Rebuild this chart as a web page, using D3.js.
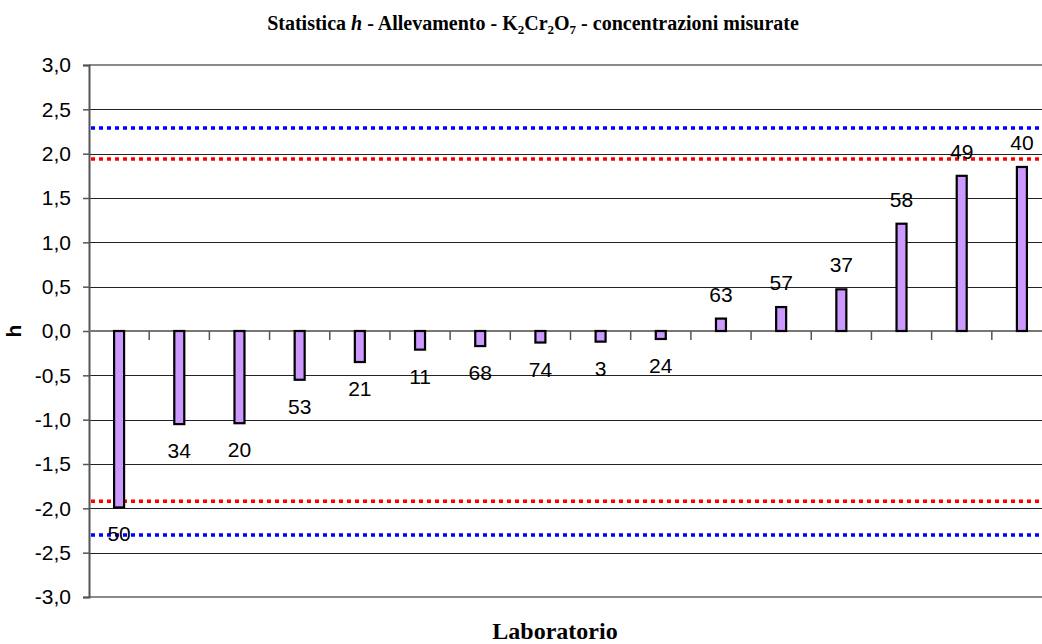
<!DOCTYPE html>
<html>
<head>
<meta charset="utf-8">
<script src="https://cdnjs.cloudflare.com/ajax/libs/d3/7.8.5/d3.min.js"></script>
<style>
  body { margin: 0; background: #fff; }
  svg { display: block; }
</style>
</head>
<body>
<div id="chart"></div>
<script>
'use strict';

// laboratories in plotted order, with their h statistic
const labs = ['50', '34', '20', '53', '21', '11', '68', '74', '3', '24', '63', '57', '37', '58', '49', '40'];
const hValues = [-1.99, -1.05, -1.04, -0.55, -0.35, -0.21, -0.17, -0.13, -0.12, -0.09, 0.14, 0.27, 0.47, 1.21, 1.75, 1.85];

// critical values (5% red, 1% blue)
const limitRed = [1.94, -1.92];
const limitBlue = [2.29, -2.30];

const yTicks = [3, 2.5, 2, 1.5, 1, 0.5, 0, -0.5, -1, -1.5, -2, -2.5, -3];

(function() {
  const width = 1042;
  const height = 644;
  const plot = { left: 89, right: 1052, top: 65, bottom: 597 };

  const svg = d3
    .select('#chart')
    .append('svg')
    .attr('width', width)
    .attr('height', height);

  const xScale = d3
    .scaleBand()
    .domain(labs)
    .range([plot.left, plot.right])
    .padding(0);

  const yScale = d3
    .scaleLinear()
    .domain([-3, 3])
    .range([plot.bottom, plot.top]);

  const fmt = v => d3.format('.1f')(v).replace('.', ',').replace('−', '-');

  // horizontal gridlines
  svg
    .append('g')
    .selectAll('line')
    .data(yTicks.filter(d => d !== 0 && Math.abs(d) !== 3))
    .enter()
    .append('line')
    .attr('x1', plot.left)
    .attr('x2', plot.right)
    .attr('y1', d => Math.round(yScale(d)) + 0.5)
    .attr('y2', d => Math.round(yScale(d)) + 0.5)
    .attr('stroke', '#222')
    .attr('stroke-width', 1.2);

  // plot border top & bottom
  [3, -3].forEach(v => {
    svg
      .append('line')
      .attr('x1', plot.left)
      .attr('x2', plot.right)
      .attr('y1', yScale(v))
      .attr('y2', yScale(v))
      .attr('stroke', '#8a8a8a')
      .attr('stroke-width', 2);
  });

  // y axis with outer ticks
  const yAxis = d3
    .axisLeft(yScale)
    .tickValues(yTicks)
    .tickSize(6)
    .tickPadding(12)
    .tickFormat(fmt);

  const gy = svg
    .append('g')
    .attr('transform', `translate(${plot.left}, 0)`)
    .call(yAxis);

  gy.select('.domain').attr('stroke', '#555').attr('stroke-width', 2);
  gy.selectAll('.tick line').attr('stroke', '#555').attr('stroke-width', 1.5);
  gy.selectAll('.tick text')
    .attr('fill', '#000')
    .style('font-family', 'Arial, "Liberation Sans", sans-serif')
    .style('font-size', '21px');

  // category axis at h = 0 with ticks between the labs
  const y0 = yScale(0);
  svg
    .append('line')
    .attr('x1', plot.left)
    .attr('x2', plot.right)
    .attr('y1', y0)
    .attr('y2', y0)
    .attr('stroke', '#777')
    .attr('stroke-width', 2);

  svg
    .append('g')
    .selectAll('line')
    .data(labs.slice(1))
    .enter()
    .append('line')
    .attr('x1', d => xScale(d))
    .attr('x2', d => xScale(d))
    .attr('y1', y0)
    .attr('y2', y0 + 9)
    .attr('stroke', '#555')
    .attr('stroke-width', 1.5);

  // dotted critical lines
  const drawLimit = (vals, color) => {
    svg
      .append('g')
      .selectAll('line')
      .data(vals)
      .enter()
      .append('line')
      .attr('x1', plot.left + 2)
      .attr('x2', plot.right)
      .attr('y1', d => yScale(d))
      .attr('y2', d => yScale(d))
      .attr('stroke', color)
      .attr('stroke-width', 3.5)
      .attr('stroke-dasharray', '4,4');
  };
  drawLimit(limitBlue, '#0000ff');
  drawLimit(limitRed, '#ff0000');

  const rows = labs.map((lab, i) => ({ lab: lab, h: hValues[i] }));
  const barW = 10;

  // bars
  svg
    .append('g')
    .selectAll('rect')
    .data(rows)
    .enter()
    .append('rect')
    .attr('x', d => xScale(d.lab) + xScale.bandwidth() / 2 - barW / 2)
    .attr('y', d => yScale(Math.max(0, d.h)))
    .attr('width', barW)
    .attr('height', d => Math.abs(yScale(d.h) - y0))
    .attr('fill', '#cc99ff')
    .attr('stroke', '#000')
    .attr('stroke-width', 2.2);

  // lab labels
  svg
    .append('g')
    .selectAll('text')
    .data(rows)
    .enter()
    .append('text')
    .attr('x', d => xScale(d.lab) + xScale.bandwidth() / 2)
    .attr('y', d => (d.h >= 0 ? yScale(d.h) - 17 : yScale(d.h) + 34))
    .attr('text-anchor', 'middle')
    .style('font-family', 'Arial, "Liberation Sans", sans-serif')
    .style('font-size', '21px')
    .text(d => d.lab);

  // title
  const title = svg
    .append('text')
    .attr('x', 533)
    .attr('y', 30)
    .attr('text-anchor', 'middle')
    .style('font-family', '"Times New Roman", "Liberation Serif", serif')
    .style('font-weight', 'bold')
    .style('font-size', '20px');
  title.append('tspan').text('Statistica ');
  title.append('tspan').style('font-style', 'italic').text('h');
  title.append('tspan').text(' - Allevamento - K');
  title.append('tspan').attr('dy', 4).style('font-size', '13px').text('2');
  title.append('tspan').attr('dy', -4).text('Cr');
  title.append('tspan').attr('dy', 4).style('font-size', '13px').text('2');
  title.append('tspan').attr('dy', -4).text('O');
  title.append('tspan').attr('dy', 4).style('font-size', '13px').text('7');
  title.append('tspan').attr('dy', -4).text(' - concentrazioni misurate');

  // axis titles
  svg
    .append('text')
    .attr('x', 555)
    .attr('y', 639)
    .attr('text-anchor', 'middle')
    .style('font-family', '"Times New Roman", "Liberation Serif", serif')
    .style('font-weight', 'bold')
    .style('font-size', '24px')
    .text('Laboratorio');

  svg
    .append('text')
    .attr('transform', `translate(21, ${y0}) rotate(-90)`)
    .attr('text-anchor', 'middle')
    .style('font-family', 'Arial, "Liberation Sans", sans-serif')
    .style('font-weight', 'bold')
    .style('font-size', '21px')
    .text('h');
})();
</script>
</body>
</html>
